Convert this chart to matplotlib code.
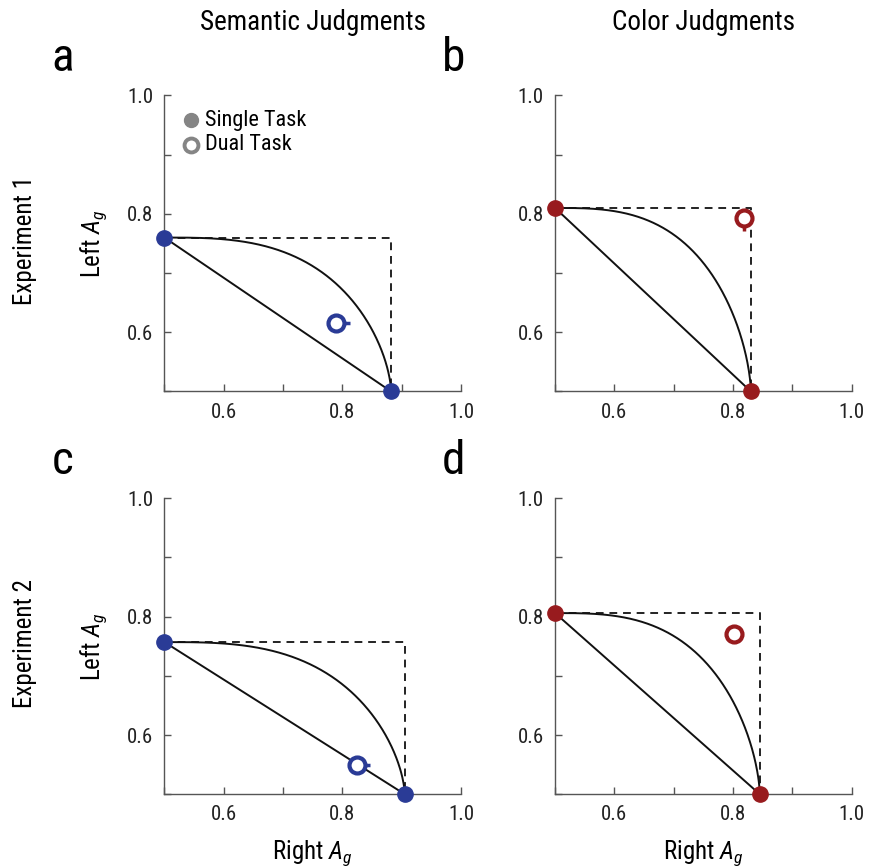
import numpy as np
import matplotlib
matplotlib.use("Agg")
import matplotlib.pyplot as plt
from matplotlib.ticker import FixedLocator
from matplotlib import font_manager

# pick a narrow sans if one is installed, else fall back
available = set(f.name for f in font_manager.fontManager.ttflist)
prefs = ['Roboto Condensed', 'Liberation Sans Narrow', 'Archivo Narrow',
         'PT Sans Narrow', 'Open Sans Condensed', 'Liberation Sans']
font = next((p for p in prefs if p in available), 'DejaVu Sans')

plt.rcParams['font.family'] = [font, 'DejaVu Sans']
plt.rcParams['mathtext.fontset'] = 'custom'
plt.rcParams['mathtext.rm'] = font
plt.rcParams['mathtext.it'] = font + ':italic'

# single-task accuracy (Ag): left hemifield only / right hemifield only
single_left = [0.760, 0.810, 0.757, 0.806]
single_left_err = [0.004, 0.010, 0.010, 0.010]
single_right = [0.882, 0.830, 0.905, 0.845]
single_right_err = [0.008, 0.004, 0.004, 0.010]
# dual-task point (right Ag, left Ag) with error bars
dual_right = [0.790, 0.818, 0.825, 0.802]
dual_right_err = [0.023, 0.003, 0.021, 0.003]
dual_left = [0.616, 0.793, 0.550, 0.770]
dual_left_err = [0.004, 0.022, 0.004, 0.004]

panel_letters = ['a', 'b', 'c', 'd']
col_titles = ['Semantic Judgments', 'Color Judgments']
row_titles = ['Experiment 1', 'Experiment 2']
blue = '#2a3b96'
red = '#981b1e'
colors = [blue, red, blue, red]

fig = plt.figure(figsize=(8.70, 8.68), dpi=100)
lefts = [0.189, 0.638]
bottoms = [0.549, 0.085]
w, h = 0.341, 0.341

for i in range(4):
    r, c = divmod(i, 2)
    ax = fig.add_axes([lefts[c], bottoms[r], w, h])
    col = colors[i]
    yl, xr = single_left[i], single_right[i]

    # dashed independence box
    ax.plot([0.5, xr, xr], [yl, yl, 0.5], ls=(0, (4, 3)), color='#222222', lw=1.4)
    # linear tradeoff
    ax.plot([0.5, xr], [yl, 0.5], color='#111111', lw=1.4)
    # curved operating characteristic
    t = np.linspace(0, 1, 400)
    fy = (1 - t ** 3) ** (1 / 1.6)
    ax.plot(0.5 + t * (xr - 0.5), 0.5 + fy * (yl - 0.5), color='#111111', lw=1.4)

    # single task points
    ax.errorbar([0.5], [yl], yerr=[[single_left_err[i]], [0]], fmt='o', color=col,
                ms=11, elinewidth=2.5, capsize=0, clip_on=False, zorder=5)
    ax.errorbar([xr], [0.5], xerr=[[0], [single_right_err[i]]], fmt='o', color=col,
                ms=11, elinewidth=2.5, capsize=0, clip_on=False, zorder=5)
    # dual task point
    ax.errorbar([dual_right[i]], [dual_left[i]],
                xerr=[[0], [dual_right_err[i]]], yerr=[[dual_left_err[i]], [0]],
                fmt='o', color=col, mfc='white', mec=col, mew=3, ms=11.5,
                elinewidth=2.5, capsize=0, zorder=6)

    ax.set_xlim(0.5, 1.0)
    ax.set_ylim(0.5, 1.0)
    for s in ['top', 'right']:
        ax.spines[s].set_visible(False)
    for s in ['left', 'bottom']:
        ax.spines[s].set_color('#555555')
        ax.spines[s].set_linewidth(1.0)
    ax.xaxis.set_major_locator(FixedLocator([0.6, 0.8, 1.0]))
    ax.yaxis.set_major_locator(FixedLocator([0.6, 0.8, 1.0]))
    ax.xaxis.set_minor_locator(FixedLocator([0.5, 0.7, 0.9]))
    ax.yaxis.set_minor_locator(FixedLocator([0.5, 0.7, 0.9]))
    ax.set_xticklabels(['0.6', '0.8', '1.0'])
    ax.set_yticklabels(['0.6', '0.8', '1.0'])
    ax.tick_params(which='both', direction='in', length=5, width=1.0,
                   color='#555555', labelsize=15, labelcolor='#222222', pad=8)

    if c == 0:
        ax.set_ylabel('Left $\\mathit{A}_g$', fontsize=18, labelpad=13)
    if r == 1:
        ax.set_xlabel('Right $\\mathit{A}_g$', fontsize=18, labelpad=10)

    fig.text(lefts[c] - 0.13, bottoms[r] + h + 0.028, panel_letters[i],
             fontsize=34, ha='left', va='baseline')

    if i == 0:
        ax.plot([0.544], [0.958], 'o', color='#858585', ms=10)
        ax.plot([0.544], [0.917], 'o', color='#858585', mfc='white', mew=2.8, ms=10)
        ax.text(0.569, 0.958, 'Single Task', fontsize=16, va='center')
        ax.text(0.569, 0.917, 'Dual Task', fontsize=16, va='center')

for c in range(2):
    fig.text(lefts[c] + w / 2, 0.974, col_titles[c], fontsize=19.5,
             ha='center', va='center')
for r in range(2):
    fig.text(0.029, bottoms[r] + h * 0.51, row_titles[r], fontsize=18,
             rotation=90, ha='center', va='center')

fig.savefig('out.png', dpi=100)
